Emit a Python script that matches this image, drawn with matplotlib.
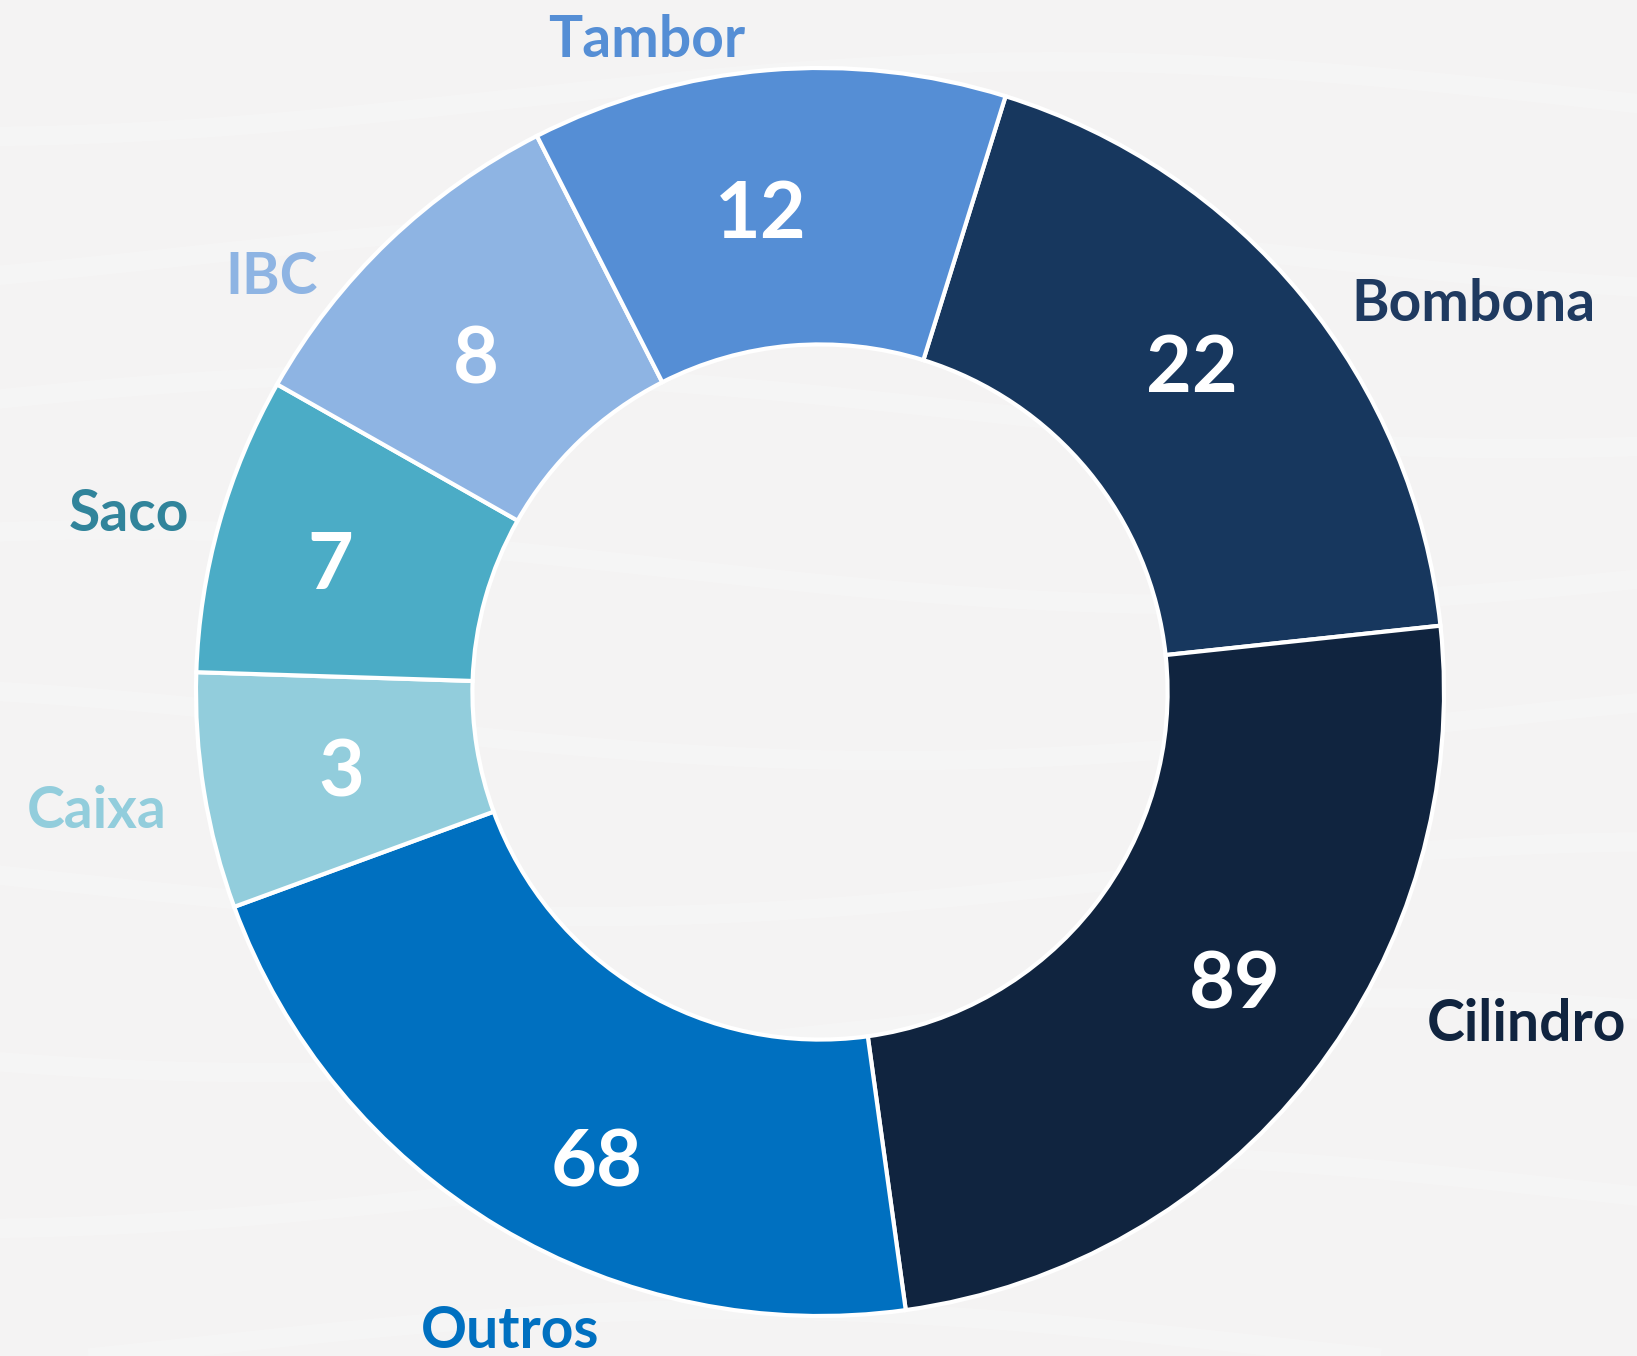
import numpy as np
import matplotlib.pyplot as plt

categories = ["Bombona", "Cilindro", "Outros", "Caixa", "Saco", "IBC", "Tambor"]
shares = [18.5, 24.5, 21.6, 6.1, 7.7, 9.3, 12.3]
counts = [22, 89, 68, 3, 7, 8, 12]

slice_colors = ["#17375e", "#10243f", "#0070c0", "#92cddc", "#4bacc6", "#8eb4e3", "#558ed5"]
label_colors = ["#1f3a60", "#10243f", "#0070c0", "#92cddc", "#31849b", "#8eb4e3", "#558ed5"]
# nudges for the outer labels (degrees, radius)
label_nudge = [-8.5, 13, 5, 0, 1, 9, 10]
label_radius = [1.22, 1.25, 1.135, 1.175, 1.145, 1.105, 1.085]
# nudges for the numbers inside the ring
value_nudge = [2.1, 3.3, 5.3, -0.2, 0.5, 1.8, 2.1]
value_radius = [0.796, 0.809, 0.827, 0.776, 0.813, 0.774, 0.78]

bg = "#f4f3f3"
plt.rcParams['font.family'] = ['Lato', 'DejaVu Sans']

fig = plt.figure(figsize=(16.37, 13.56), dpi=100)
fig.patch.set_facecolor(bg)
ax = fig.add_axes([0, 0, 1, 1])
ax.set_facecolor(bg)

# faint wavy texture of the background
xs = np.linspace(-1.4, 1.4, 400)
for k in range(10):
    y0 = 1.2 - k * 0.25
    ax.plot(xs, y0 + 0.06 * np.sin(1.8 * xs + k * 0.9), color="white", lw=14, alpha=0.18, zorder=0)

wedges, _ = ax.pie(shares, colors=slice_colors, startangle=72.7, counterclock=False,
                   radius=1.0, wedgeprops=dict(width=0.443, edgecolor="white", linewidth=3))

for i, w in enumerate(wedges):
    mid = (w.theta1 + w.theta2) / 2
    a = np.deg2rad(mid + value_nudge[i])
    r = value_radius[i]
    ax.text(r * np.cos(a), r * np.sin(a) - 0.012, str(counts[i]), ha="center", va="center",
            fontsize=57, fontweight="bold", color="white")
    a = np.deg2rad(mid + label_nudge[i])
    r = label_radius[i]
    ax.text(r * np.cos(a), r * np.sin(a) - 0.005, categories[i], ha="center", va="center",
            fontsize=41, fontweight="bold", color=label_colors[i])

ax.set_xlim(-820 / 624, (1637 - 820) / 624)
ax.set_ylim(-664 / 624, 692 / 624)
ax.set_aspect("equal")
ax.axis("off")

fig.savefig("out.png", dpi=100, facecolor=bg)
